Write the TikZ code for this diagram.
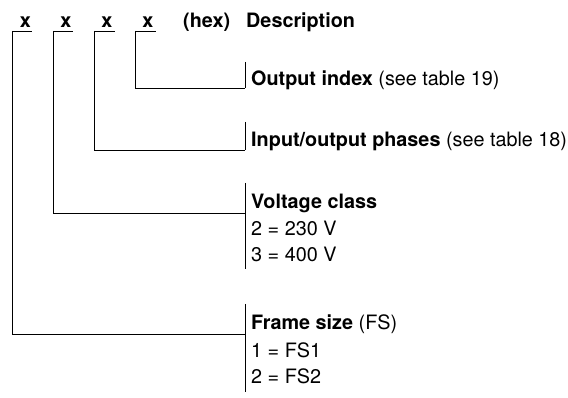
\documentclass[tikz,border=0pt]{standalone}
\usepackage{fontspec}
\setmainfont{TeX Gyre Heros}
\begin{document}
\begin{tikzpicture}[x=1pt,y=-1pt,
  txt/.style={anchor=base west,inner sep=0pt,font=\fontsize{19.8}{22}\selectfont},
  hdr/.style={anchor=base west,inner sep=0pt,font=\fontsize{19.8}{22}\selectfont\bfseries},
  code/.style={anchor=base,inner sep=0pt,font=\fontsize{19.8}{22}\selectfont\bfseries},
  ln/.style={line width=0.9pt}]
\useasboundingbox (0,0) rectangle (568,398);
% header
\node[code] (c1) at (25.5,28) {x};
\node[code] (c2) at (66,28) {x};
\node[code] (c3) at (107,28) {x};
\node[code] (c4) at (148,28) {x};
\node[hdr] (hex) at (183,28) {(hex)};
\node[hdr] (desc) at (246,28) {Description};
% underline left ends and right ends
\coordinate (u1) at (12,31); \coordinate (v1) at (32,31);
\coordinate (u2) at (53,31); \coordinate (v2) at (73,31);
\coordinate (u3) at (94,31); \coordinate (v3) at (115,31);
\coordinate (u4) at (135,31); \coordinate (v4) at (156,31);
\foreach \i in {1,2,3,4} \draw[ln] (u\i) -- (v\i);
% bars
\coordinate (t4) at (245,62);  \coordinate (b4) at (245,88);   \coordinate (e4) at (245,88);
\coordinate (t3) at (245,122); \coordinate (b3) at (245,150);  \coordinate (e3) at (245,150);
\coordinate (t2) at (245,183); \coordinate (b2) at (245,213);  \coordinate (e2) at (245,269);
\coordinate (t1) at (245,304); \coordinate (b1) at (245,334);  \coordinate (e1) at (245,392);
\foreach \i in {1,2,3,4} {\draw[ln] (t\i) -- (e\i); \draw[ln] (u\i) |- (b\i);}
% labels
\node[txt] (l4) at (251,86) {\textbf{Output index} (see table 19)};
\node[txt] (l3) at (251,147) {\textbf{Input/output phases} (see table 18)};
\node[txt] (l2) at (251,209) {\textbf{Voltage class}};
\node[txt] (l2a) at (251,236) {2 = 230 V};
\node[txt] (l2b) at (251,262) {3 = 400 V};
\node[txt] (l1) at (251,330) {\textbf{Frame size} (FS)};
\node[txt] (l1a) at (251,357) {1 = FS1};
\node[txt] (l1b) at (251,383) {2 = FS2};
\end{tikzpicture}
\end{document}
